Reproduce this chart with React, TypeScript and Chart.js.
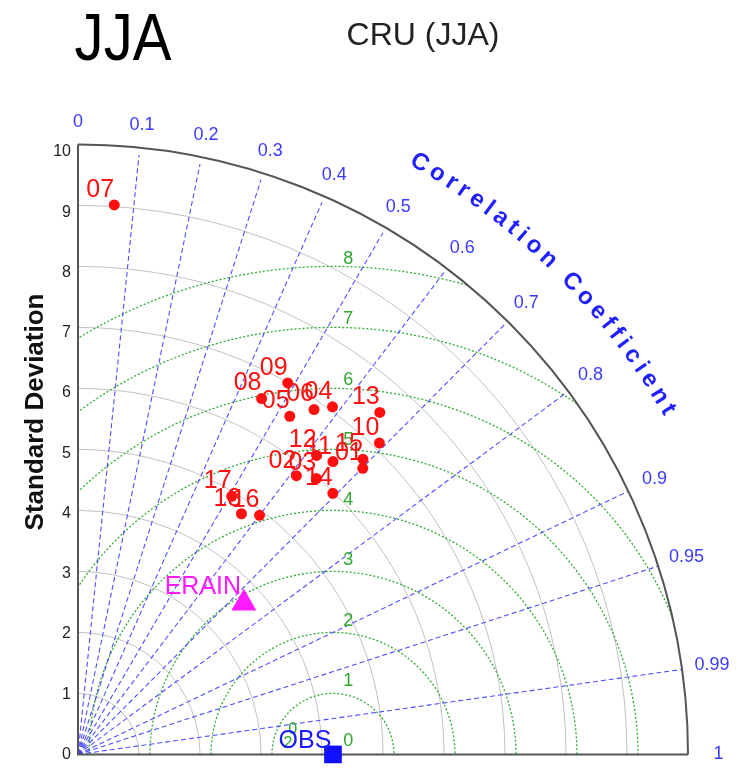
import { useEffect, useRef } from "react";
import { Chart, registerables } from "chart.js";

Chart.register(...registerables);

// ---------- data ----------
const modelNames = ["01", "02", "03", "04", "05", "06", "07", "08", "09", "10", "11", "12", "13", "14", "15", "16", "17", "18"];
const modelStd = [6.66, 5.85, 6.02, 7.12, 6.6, 6.91, 9.14, 6.63, 7.06, 7.15, 6.41, 6.32, 7.53, 6.02, 6.77, 4.96, 4.97, 4.81];
const modelCorr = [0.701, 0.612, 0.649, 0.586, 0.526, 0.56, 0.065, 0.454, 0.487, 0.691, 0.652, 0.619, 0.657, 0.694, 0.69, 0.6, 0.507, 0.557];

const reanalysisNames = ["ERAIN"];
const reanalysisStd = [3.7];
const reanalysisCorr = [0.735];

const obsName = "OBS";
const obsStd = 4.18;

const stdTicks = [0, 1, 2, 3, 4, 5, 6, 7, 8, 9, 10];
const corrLines = [0.1, 0.2, 0.3, 0.4, 0.5, 0.6, 0.7, 0.8, 0.9, 0.95, 0.99];
const corrTickLabels = ["0", "0.1", "0.2", "0.3", "0.4", "0.5", "0.6", "0.7", "0.8", "0.9", "0.95", "0.99", "1"];
const corrTickValues = [0, 0.1, 0.2, 0.3, 0.4, 0.5, 0.6, 0.7, 0.8, 0.9, 0.95, 0.99, 1];
const rmsCircles = [1, 2, 3, 4, 5, 6, 7, 8];
const rmsLabels = ["0", "1", "2", "3", "4", "5", "6", "7", "8"];

const chartTitle = "CRU (JJA)";
const panelTitle = "JJA";
const yTitle = "Standard Deviation";
const arcTitle = "Correlation Coefficient";

// ---------- helpers ----------
const toXY = (s: number, c: number) => ({ x: s * c, y: s * Math.sqrt(Math.max(0, 1 - c * c)) });

const FONT = '"Liberation Sans", Arial, sans-serif';

function drawArcText(ctx: CanvasRenderingContext2D, text: string, cx: number, cy: number, r: number, startDeg: number, endDeg: number) {
  const chars = [...text];
  const w = chars.map((ch) => ctx.measureText(ch).width);
  let base = 0;
  for (let i = 0; i < chars.length - 1; i++) base += (w[i] + w[i + 1]) / 2;
  const arcLen = (r * (startDeg - endDeg) * Math.PI) / 180;
  const gap = (arcLen - base) / (chars.length - 1);
  let s = 0;
  const start = (startDeg * Math.PI) / 180;
  for (let i = 0; i < chars.length; i++) {
    const th = start - s / r;
    ctx.save();
    ctx.translate(cx + r * Math.cos(th), cy - r * Math.sin(th));
    ctx.rotate(Math.PI / 2 - th);
    ctx.fillText(chars[i], 0, 0);
    ctx.restore();
    if (i < chars.length - 1) s += (w[i] + w[i + 1]) / 2 + gap;
  }
}

const taylorPlugin = {
  id: "taylor",
  beforeDatasetsDraw(chart: any) {
    const { ctx, scales } = chart;
    const xs = scales.x;
    const ys = scales.y;
    const ox = xs.getPixelForValue(0);
    const oy = ys.getPixelForValue(0);
    const u = xs.getPixelForValue(1) - ox;
    const Rmax = 10 * u;
    ctx.save();
    // std circles
    ctx.strokeStyle = "#c2c2c2";
    ctx.lineWidth = 1;
    stdTicks.forEach((s) => {
      if (s <= 0 || s >= 10) return;
      ctx.beginPath();
      ctx.arc(ox, oy, s * u, -Math.PI / 2, 0);
      ctx.stroke();
    });
    // clip to quarter circle
    ctx.beginPath();
    ctx.moveTo(ox, oy);
    ctx.arc(ox, oy, Rmax, -Math.PI / 2, 0);
    ctx.closePath();
    ctx.clip();
    // RMS circles
    const obx = xs.getPixelForValue(obsStd);
    ctx.strokeStyle = "rgba(40,165,40,0.95)";
    ctx.lineWidth = 1.3;
    ctx.setLineDash([2, 2]);
    rmsCircles.forEach((r) => {
      ctx.beginPath();
      ctx.arc(obx, oy, r * u, Math.PI, 2 * Math.PI);
      ctx.stroke();
    });
    // correlation lines
    ctx.strokeStyle = "rgba(60,60,255,0.9)";
    ctx.lineWidth = 1.1;
    ctx.setLineDash([5, 3]);
    corrLines.forEach((c) => {
      const p = toXY(10, c);
      ctx.beginPath();
      ctx.moveTo(ox, oy);
      ctx.lineTo(xs.getPixelForValue(p.x), ys.getPixelForValue(p.y));
      ctx.stroke();
    });
    ctx.restore();
    // outer arc and axes
    ctx.save();
    ctx.strokeStyle = "#555";
    ctx.lineWidth = 2;
    ctx.beginPath();
    ctx.arc(ox, oy, Rmax, -Math.PI / 2, 0);
    ctx.stroke();
    ctx.beginPath();
    ctx.moveTo(ox, oy - Rmax);
    ctx.lineTo(ox, oy);
    ctx.lineTo(ox + Rmax, oy);
    ctx.stroke();
    ctx.restore();
  },
  afterDatasetsDraw(chart: any) {
    const { ctx, scales } = chart;
    const xs = scales.x;
    const ys = scales.y;
    const ox = xs.getPixelForValue(0);
    const oy = ys.getPixelForValue(0);
    const u = xs.getPixelForValue(1) - ox;
    ctx.save();
    ctx.textAlign = "center";
    ctx.textBaseline = "middle";
    // correlation tick labels
    ctx.fillStyle = "#3a3aff";
    ctx.font = `18px ${FONT}`;
    corrTickValues.forEach((c, i) => {
      const p = toXY(10.5, c);
      ctx.fillText(corrTickLabels[i], xs.getPixelForValue(p.x), ys.getPixelForValue(p.y));
    });
    // arc title
    ctx.fillStyle = "#1f1fff";
    ctx.font = `bold 24px ${FONT}`;
    drawArcText(ctx, arcTitle, ox, oy, 11.2 * u, 60.0, 30.3);
    // RMS labels
    ctx.fillStyle = "#2ea82e";
    ctx.font = `18px ${FONT}`;
    rmsLabels.forEach((t, i) => {
      ctx.fillText(t, xs.getPixelForValue(obsStd + 0.25), ys.getPixelForValue(i + 0.22));
    });
    ctx.font = `16px ${FONT}`;
    ctx.fillText("0", xs.getPixelForValue(obsStd - 0.66), ys.getPixelForValue(0.42));
    ctx.fillText("2", xs.getPixelForValue(obsStd - 0.74), ys.getPixelForValue(0.18));
    // model labels
    ctx.fillStyle = "#ff1010";
    ctx.font = `25px ${FONT}`;
    modelNames.forEach((n, i) => {
      const p = toXY(modelStd[i], modelCorr[i]);
      ctx.fillText(n, xs.getPixelForValue(p.x) - 14, ys.getPixelForValue(p.y) - 15);
    });
    // reanalysis label
    ctx.fillStyle = "#ff1aff";
    ctx.font = `25px ${FONT}`;
    reanalysisNames.forEach((n, i) => {
      const p = toXY(reanalysisStd[i], reanalysisCorr[i]);
      ctx.fillText(n, xs.getPixelForValue(p.x) - 41, ys.getPixelForValue(p.y) - 16);
    });
    // obs label
    ctx.fillStyle = "#1a1aff";
    ctx.fillText(obsName, xs.getPixelForValue(obsStd) - 28, oy - 13);
    ctx.restore();
  },
  afterDraw(chart: any) {
    const { ctx } = chart;
    ctx.save();
    ctx.textAlign = "center";
    ctx.textBaseline = "middle";
    // y title
    ctx.fillStyle = "#111";
    ctx.font = `bold 26px ${FONT}`;
    ctx.save();
    ctx.translate(36, 412);
    ctx.rotate(-Math.PI / 2);
    ctx.fillText(yTitle, 0, 0);
    ctx.restore();
    // chart title
    ctx.fillStyle = "#222";
    ctx.font = `32px ${FONT}`;
    ctx.fillText(chartTitle, 423, 36);
    // panel title
    ctx.fillStyle = "#000";
    ctx.font = `66px ${FONT}`;
    ctx.save();
    ctx.translate(123, 42);
    ctx.scale(0.88, 1);
    ctx.fillText(panelTitle, 0, 0);
    ctx.restore();
    ctx.restore();
  },
};

export default function App() {
  const ref = useRef<HTMLCanvasElement | null>(null);
  useEffect(() => {
    if (!ref.current) return;
    const modelData = modelStd.map((s, i) => toXY(s, modelCorr[i]));
    const reData = reanalysisStd.map((s, i) => toXY(s, reanalysisCorr[i]));
    const chart = new Chart(ref.current, {
      type: "scatter",
      data: {
        datasets: [
          {
            label: "models",
            data: modelData,
            backgroundColor: "#ff1010",
            borderColor: "#ff1010",
            pointRadius: 5.5,
            borderWidth: 0,
            clip: false as any,
          },
          {
            label: "reanalysis",
            data: reData,
            pointStyle: "triangle",
            backgroundColor: "#ff1aff",
            borderColor: "#ff1aff",
            pointRadius: 14.5,
            borderWidth: 0,
            clip: false as any,
          },
          {
            label: "obs",
            data: [{ x: obsStd, y: 0 }],
            pointStyle: "rect",
            backgroundColor: "#1010ff",
            borderColor: "#1010ff",
            pointRadius: 12.5,
            borderWidth: 0,
            clip: false as any,
          },
        ],
      },
      options: {
        animation: false,
        responsive: false,
        layout: { padding: { left: 0, right: 50, top: 152, bottom: 8 } },
        plugins: { legend: { display: false }, tooltip: { enabled: false } },
        events: [],
        scales: {
          x: { type: "linear", min: 0, max: 10, display: false },
          y: {
            type: "linear",
            min: 0,
            max: 10,
            afterFit: (s: any) => {
              s.width = 78;
            },
            grid: { display: false, drawTicks: false },
            border: { display: false },
            ticks: {
              stepSize: 1,
              padding: 7,
              color: "#222",
              font: { size: 16, family: FONT },
              callback: (v: any) => (stdTicks.includes(Number(v)) ? String(v) : ""),
            },
          },
        },
      },
      plugins: [taylorPlugin],
    });
    return () => chart.destroy();
  }, []);
  return (
    <div style={{ position: "absolute", left: 0, top: 0, width: 738, height: 771, background: "#fff" }}>
      <canvas ref={ref} width={738} height={771} style={{ display: "block" }} />
    </div>
  );
}
